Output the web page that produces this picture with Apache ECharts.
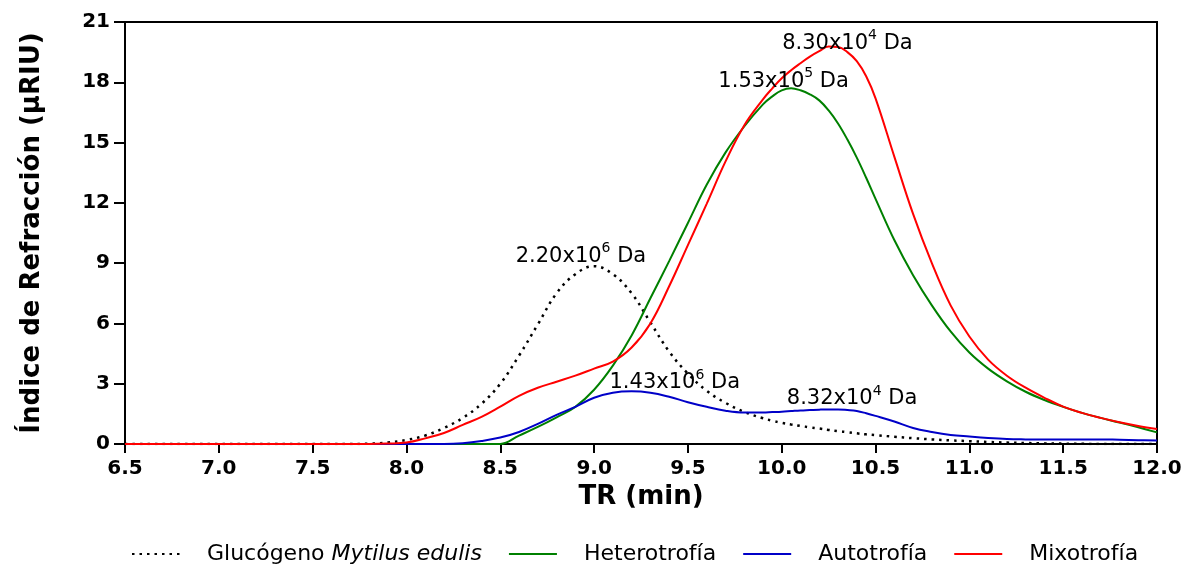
<!DOCTYPE html>
<html>
<head>
<meta charset="utf-8">
<script src="https://cdn.jsdelivr.net/npm/echarts@6/dist/echarts.min.js"></script>
<style>html,body{margin:0;padding:0;background:#fff;}#c{width:1188px;height:576px;}</style>
</head>
<body>
<div id="c"></div>
<script>
var xVals = [6.5,6.6,6.7,6.8,6.9,7.0,7.1,7.2,7.3,7.4,7.5,7.6,7.7,7.8,7.9,8.0,8.1,8.2,8.3,8.4,8.5,8.6,8.7,8.8,8.9,9.0,9.1,9.2,9.3,9.4,9.5,9.6,9.7,9.8,9.9,9.95,10.0,10.05,10.1,10.15,10.2,10.25,10.3,10.35,10.4,10.45,10.5,10.6,10.7,10.8,10.9,11.0,11.1,11.2,11.3,11.4,11.5,11.6,11.7,11.8,11.9,12.0];

var glucogeno = [0,0,0,0,0,0,0,0,0,0,0,0,0,0.02,0.07,0.2,0.42,0.8,1.3,2.0,3.0,4.4,5.95,7.5,8.45,8.85,8.45,7.5,6.05,4.6,3.5,2.65,2.05,1.6,1.28,1.16,1.05,0.97,0.9,0.83,0.77,0.7,0.64,0.59,0.53,0.48,0.44,0.36,0.29,0.23,0.18,0.14,0.1,0.07,0.05,0.03,0.02,0.01,0,0,0,0];

var heterotrofia = [0,0,0,0,0,0,0,0,0,0,0,0,0,0,0,0,0,0,0,0,0,0.42,0.85,1.33,1.85,2.7,3.9,5.4,7.25,9.1,11.0,12.9,14.5,15.8,16.9,17.3,17.6,17.7,17.6,17.4,17.1,16.6,15.95,15.15,14.25,13.25,12.2,10.15,8.4,6.9,5.6,4.55,3.75,3.12,2.6,2.19,1.85,1.55,1.3,1.07,0.83,0.58];

var autotrofia = [0,0,0,0,0,0,0,0,0,0,0,0,0,0,0,0,0,0,0.04,0.15,0.32,0.6,1.0,1.45,1.85,2.3,2.55,2.62,2.55,2.35,2.08,1.85,1.66,1.57,1.57,1.59,1.61,1.64,1.67,1.69,1.71,1.72,1.72,1.69,1.64,1.53,1.4,1.12,0.8,0.6,0.45,0.37,0.3,0.25,0.23,0.22,0.22,0.22,0.23,0.21,0.19,0.17];

var mixotrofia = [0,0,0,0,0,0,0,0,0,0,0,0,0,0,0.02,0.07,0.28,0.55,0.95,1.35,1.86,2.4,2.8,3.1,3.4,3.75,4.1,4.8,6.0,7.85,9.9,11.95,14.05,15.85,17.15,17.7,18.2,18.6,18.95,19.28,19.55,19.78,19.76,19.5,19.05,18.3,17.2,14.3,11.45,9.0,6.9,5.35,4.2,3.4,2.8,2.3,1.86,1.55,1.3,1.08,0.9,0.75];

var seriesNames = ['Glucógeno Mytilus edulis','Heterotrofía','Autotrofía','Mixotrofía'];
var seriesColors = ['#000000','#008000','#0000c8','#ff0000'];

// annotation labels: [x, y, mantissa, exponent]
var annGlucogeno = [[8.93, 9.45, '2.20x10', '6']];
var annHetero = [[10.01, 18.15, '1.53x10', '5']];
var annAuto = [[9.43, 3.15, '1.43x10', '6'], [10.375, 2.35, '8.32x10', '4']];
var annMixo = [[10.35, 20.05, '8.30x10', '4']];

var xTicks = {min: 6.5, max: 12.0, interval: 0.5};
var yTicks = {min: 0, max: 21, interval: 3};

var FONT = 'DejaVu Sans';

function pairs(ys) { return xVals.map(function (x, i) { return [x, ys[i]]; }); }
function marks(list) {
  return {
    symbol: 'circle', symbolSize: 0, silent: true,
    label: {
      show: true, position: 'inside',
      formatter: function (p) { return '{a|' + p.data.m + '}{s|' + p.data.e + '}{a| Da}'; },
      rich: {
        a: {fontFamily: FONT, fontSize: 21, color: '#000', lineHeight: 25, verticalAlign: 'bottom'},
        s: {fontFamily: FONT, fontSize: 14, color: '#000', lineHeight: 15, verticalAlign: 'top'}
      }
    },
    data: list.map(function (a) { return {coord: [a[0], a[1]], m: a[2], e: a[3]}; })
  };
}

var dataSets = [glucogeno, heterotrofia, autotrofia, mixotrofia];
var annSets = [annGlucogeno, annHetero, annAuto, annMixo];

var chart = echarts.init(document.getElementById('c'), null, {renderer: 'canvas'});
chart.setOption({
  animation: false,
  backgroundColor: '#fff',
  grid: {left: 125, right: 31, top: 22, bottom: 132, show: true, borderColor: '#000', borderWidth: 2, containLabel: false},
  xAxis: {
    type: 'value', min: xTicks.min, max: xTicks.max, interval: xTicks.interval,
    name: 'TR (min)', nameLocation: 'middle', nameGap: 23,
    nameTextStyle: {fontFamily: FONT, fontSize: 26, fontWeight: 'bold', color: '#000', verticalAlign: 'top'},
    axisLine: {show: true, lineStyle: {color: '#000', width: 2}},
    axisTick: {show: true, length: 9, lineStyle: {color: '#000', width: 2}},
    axisLabel: {margin: 15, fontFamily: FONT, fontSize: 20, fontWeight: 'bold', color: '#000',
      formatter: function (v) { return v.toFixed(1); }},
    splitLine: {show: false}
  },
  yAxis: {
    type: 'value', min: yTicks.min, max: yTicks.max, interval: yTicks.interval,
    name: 'Índice de Refracción (µRIU)', nameLocation: 'middle', nameGap: 80,
    nameTextStyle: {fontFamily: FONT, fontSize: 26, fontWeight: 'bold', color: '#000'},
    axisLine: {show: true, lineStyle: {color: '#000', width: 2}},
    axisTick: {show: true, length: 11, lineStyle: {color: '#000', width: 2}},
    axisLabel: {margin: 15, fontFamily: FONT, fontSize: 20, fontWeight: 'bold', color: '#000'},
    splitLine: {show: false}
  },
  legend: {
    bottom: 6, left: 126, itemWidth: 48, itemHeight: 12, itemGap: 26,
    data: seriesNames,
    itemStyle: {color: 'rgba(0,0,0,0)', borderWidth: 0, opacity: 0},
    formatter: function (name) {
      if (name === 'Glucógeno Mytilus edulis') return '{sp|}{n|Glucógeno }{i|Mytilus edulis}';
      return '{sp|}{n|' + name + '}';
    },
    textStyle: {
      fontFamily: FONT, fontSize: 22, color: '#000',
      rich: {
        sp: {width: 22},
        n: {fontFamily: FONT, fontSize: 22, color: '#000'},
        i: {fontFamily: FONT, fontSize: 22, fontStyle: 'italic', color: '#000'}
      }
    }
  },
  series: dataSets.map(function (d, i) {
    return {
      name: seriesNames[i], type: 'line', data: pairs(d), smooth: 0.4, showSymbol: false, symbol: 'none',
      lineStyle: {color: seriesColors[i], width: i === 0 ? 2.5 : 2, type: i === 0 ? [2.5, 5] : 'solid'},
      itemStyle: {color: seriesColors[i]},
      z: i === 3 ? 4 : 3,
      markPoint: marks(annSets[i])
    };
  })
});
</script>
</body>
</html>
